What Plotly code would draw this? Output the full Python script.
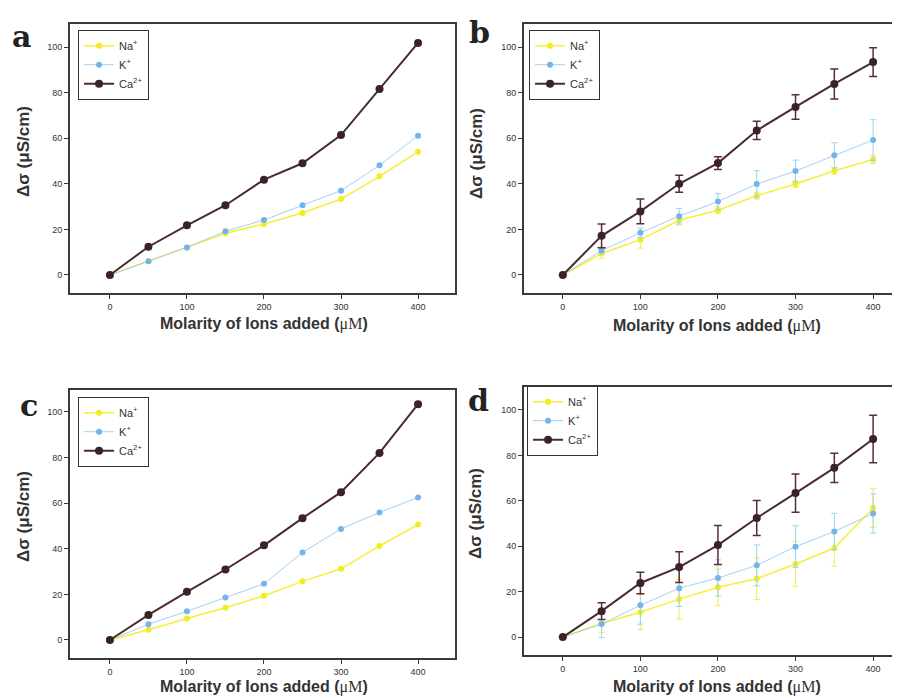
import plotly.graph_objects as go

W, H = 900, 698

molarity = [0, 50, 100, 150, 200, 250, 300, 350, 400]
x_ticks = [0, 100, 200, 300, 400]
y_ticks = [0, 20, 40, 60, 80, 100]

# Panel a
a_na = [0, 6.0, 12.0, 18.3, 22.4, 27.2, 33.3, 43.3, 54.1]
a_k = [0, 6.0, 12.1, 19.2, 24.1, 30.6, 37.0, 48.1, 61.1]
a_ca = [0, 12.4, 21.8, 30.6, 41.8, 49.0, 61.4, 81.6, 101.8]

# Panel b (mean +/- error)
b_na = [0, 9.4, 15.5, 24.0, 28.4, 34.8, 39.9, 45.7, 50.7]
b_na_err = [0, 2.2, 3.7, 2.0, 1.5, 1.5, 1.5, 1.5, 1.8]
b_k = [0, 10.7, 18.5, 25.8, 32.2, 39.9, 45.6, 52.5, 59.2]
b_k_err = [0, 1.5, 2.0, 3.4, 3.6, 5.8, 4.8, 5.5, 8.9]
b_ca = [0, 17.2, 27.9, 40.0, 49.1, 63.4, 73.7, 83.8, 93.4]
b_ca_err = [0, 5.2, 5.4, 3.7, 2.8, 4.0, 5.4, 6.6, 6.3]

# Panel c
c_na = [0, 4.5, 9.4, 14.1, 19.4, 25.7, 31.2, 41.2, 50.6]
c_k = [0, 6.9, 12.6, 18.6, 24.6, 38.4, 48.7, 55.9, 62.5]
c_ca = [0, 11.0, 21.1, 30.9, 41.5, 53.4, 64.8, 82.0, 103.4]

# Panel d (mean +/- error)
d_na = [0, 6.0, 10.9, 16.7, 21.9, 25.7, 32.2, 39.2, 56.8]
d_na_err = [0, 4.0, 7.7, 8.8, 8.0, 9.2, 9.9, 8.1, 8.5]
d_k = [0, 5.7, 14.0, 21.5, 26.0, 31.6, 39.8, 46.5, 54.4]
d_k_err = [0, 6.0, 8.3, 8.0, 8.0, 9.0, 9.2, 8.0, 8.6]
d_ca = [0, 11.4, 23.8, 30.8, 40.5, 52.4, 63.4, 74.5, 87.2]
d_ca_err = [0, 3.7, 4.7, 6.8, 8.6, 7.7, 8.4, 6.4, 10.5]

panel_letters = ["a", "b", "c", "d"]
series_names = ["Na<sup>+</sup>", "K<sup>+</sup>", "Ca<sup>2+</sup>"]

NA_C, K_C, CA_C = "#f3ec1e", "#74b4ea", "#3b2226"
NA_L, K_L, CA_L = "#f5ef3a", "#a6d0f2", "#4a2c2e"
NA_E, K_E, CA_E = "#f2ea5a", "#96d6f0", "#5a2e30"

panels = [
    (a_na, None, a_k, None, a_ca, None),
    (b_na, b_na_err, b_k, b_k_err, b_ca, b_ca_err),
    (c_na, None, c_k, None, c_ca, None),
    (d_na, d_na_err, d_k, d_k_err, d_ca, d_ca_err),
]

def px_x(p):
    return p / W

def px_y(p):
    return 1 - p / H

# plot boxes in pixels: (left, top, right, bottom)
boxes = [(62, 16, 448, 285), (517, 16, 900, 285), (62, 382, 448, 650), (517, 379, 900, 647)]
xranges = [[-52, 448], [-50.2, 442.4], [-52, 448], [-50.2, 442.4]]
yranges = [[-7.9, 110.1], [-7.9, 110.1], [-7.9, 109.6], [-7.9, 110.1]]
legend_pos = [(70, 22), (522, 22), (70, 389), (520, 378)]
letter_pos = [(14, 28), (473, 24), (21, 397), (472, 392)]
ytitle_pos = [(15, 143), (469, 145), (15, 508), (468, 505)]
xtitle_pos = [(257, 316), (711, 318), (257, 679), (711, 679)]

fig = go.Figure()
layout = dict(
    width=W, height=H, margin=dict(l=0, r=0, t=0, b=0),
    paper_bgcolor="white", plot_bgcolor="white", showlegend=True,
    annotations=[],
)

for i, (na, na_e, k, k_e, ca, ca_e) in enumerate(panels):
    sfx = "" if i == 0 else str(i + 1)
    xa, ya = "x" + sfx, "y" + sfx
    lg = "legend" + sfx
    specs = [
        (na, na_e, series_names[0], NA_C, NA_L, NA_E, 6, 1.5),
        (k, k_e, series_names[1], K_C, K_L, K_E, 6, 1.0),
        (ca, ca_e, series_names[2], CA_C, CA_L, CA_E, 8, 2.0),
    ]
    for vals, err, name, mc, lc, ec, ms, lw in specs:
        tr = dict(
            x=molarity, y=vals, name=name, mode="lines+markers",
            xaxis=xa, yaxis=ya, legend=lg,
            marker=dict(color=mc, size=ms),
            line=dict(color=lc, width=lw),
        )
        if err is not None:
            tr["error_y"] = dict(type="data", array=err, visible=True, color=ec,
                                 thickness=1.5 if name.startswith("Ca") else 1.0,
                                 width=4 if name.startswith("Ca") else 3)
        fig.add_trace(go.Scatter(**tr))

    l, t, r, b = boxes[i]
    axis_common = dict(
        showgrid=False, zeroline=False, showline=True, mirror=True,
        linecolor="#3a3a3a", linewidth=1.5, ticks="outside", ticklen=4,
        tickcolor="#3a3a3a", tickwidth=1,
        tickfont=dict(family="Liberation Sans, Arial", size=9, color="#333333"),
    )
    layout["xaxis" + sfx] = dict(
        domain=[px_x(l), px_x(r)], range=xranges[i], anchor=ya,
        tickvals=x_ticks, **axis_common)
    layout["yaxis" + sfx] = dict(
        domain=[px_y(b), px_y(t)], range=yranges[i], anchor=xa,
        tickvals=y_ticks, **axis_common)
    lx, ly = legend_pos[i]
    layout[lg] = dict(
        x=px_x(lx), y=px_y(ly), xanchor="left", yanchor="top",
        bgcolor="white", bordercolor="#333333", borderwidth=1.2,
        font=dict(family="Liberation Sans, Arial", size=11, color="#333333"),
        tracegroupgap=0, itemwidth=30,
    )
    cx, cy = letter_pos[i]
    layout["annotations"].append(dict(
        text="<b>%s</b>" % panel_letters[i], x=px_x(cx), y=px_y(cy),
        xref="paper", yref="paper", showarrow=False, xanchor="center", yanchor="middle",
        font=dict(family="DejaVu Serif", size=30, color="#222222")))
    tx, ty = ytitle_pos[i]
    layout["annotations"].append(dict(
        text="<b>Δσ (μS/cm)</b>", x=px_x(tx), y=px_y(ty), textangle=-90,
        xref="paper", yref="paper", showarrow=False, xanchor="center", yanchor="middle",
        font=dict(family="Liberation Sans, Arial", size=17, color="#333333")))
    tx, ty = xtitle_pos[i]
    layout["annotations"].append(dict(
        text="<b>Molarity of Ions added (</b><span style=\"font-family:'Liberation Serif'\">μM</span><b>)</b>",
        x=px_x(tx), y=px_y(ty),
        xref="paper", yref="paper", showarrow=False, xanchor="center", yanchor="middle",
        font=dict(family="Liberation Sans, Arial", size=16, color="#333333")))

fig.update_layout(**layout)
fig.write_html("out.html")
